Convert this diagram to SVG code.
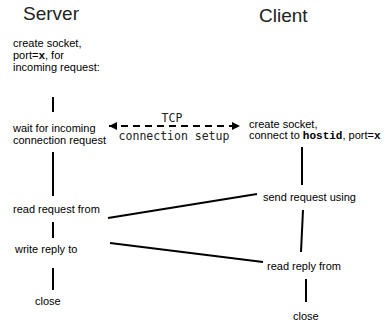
<svg xmlns="http://www.w3.org/2000/svg" width="390" height="322" viewBox="0 0 390 322">
<style>
text{font-family:"Liberation Sans",Arial,sans-serif;fill:#000}
.h{font-size:19px;fill:#222}
.t{font-size:11px}
.m{font-family:"DejaVu Sans Mono","Liberation Mono",monospace;font-size:11.5px;fill:#222}
.b{font-family:"Liberation Mono",monospace;font-weight:bold}
.ln{stroke:#000;stroke-width:2;fill:none}
.dash{stroke:#000;stroke-width:2;stroke-dasharray:7 5;fill:none}
</style>
<defs>
<marker id="ah" viewBox="0 0 10 10" refX="10" refY="5" markerWidth="10" markerHeight="8" markerUnits="userSpaceOnUse" orient="auto-start-reverse">
<path d="M0,0 L10,5 L0,10 z" fill="#000"/>
</marker>
</defs>
<g id="title-server"><text class="h" x="23" y="20">Server</text></g>
<g id="title-client"><text class="h" x="259" y="22">Client</text></g>
<g id="s-create">
<text class="t" x="13" y="47">create socket,</text>
<text class="t" x="13" y="59">port=<tspan class="b">x</tspan>, for</text>
<text class="t" x="13" y="71">incoming request:</text>
</g>
<g id="s-wait">
<text class="t" x="13" y="132">wait for incoming</text>
<text class="t" x="13" y="144">connection request</text>
</g>
<g id="s-read"><text class="t" x="13" y="213">read request from</text></g>
<g id="s-write"><text class="t" x="15" y="253">write reply to</text></g>
<g id="s-close"><text class="t" x="35" y="305">close</text></g>
<g id="c-create">
<text class="t" x="249" y="128">create socket,</text>
<text class="t" x="249" y="139">connect to <tspan class="b">hostid</tspan>, port=<tspan class="b">x</tspan></text>
</g>
<g id="c-send"><text class="t" x="263" y="201">send request using</text></g>
<g id="c-read"><text class="t" x="267" y="270">read reply from</text></g>
<g id="c-close"><text class="t" x="293" y="320">close</text></g>
<g id="tcp-label">
<text class="m" x="172" y="122" text-anchor="middle" font-size="12.5">TCP</text>
<text class="m" x="174" y="140" text-anchor="middle">connection setup</text>
</g>
<g id="connectors">
<line class="ln" x1="53" y1="97" x2="53" y2="112"/>
<line class="ln" x1="53" y1="152" x2="53" y2="196"/>
<line class="ln" x1="53" y1="222" x2="53" y2="238"/>
<line class="ln" x1="53" y1="268" x2="53" y2="290"/>
<line class="dash" x1="109" y1="126" x2="240" y2="126" marker-start="url(#ah)" marker-end="url(#ah)"/>
<line class="ln" x1="302" y1="147" x2="302" y2="185"/>
<line class="ln" x1="303" y1="210" x2="301" y2="252"/>
<line class="ln" x1="306" y1="279" x2="306" y2="302"/>
<line class="ln" x1="108" y1="218" x2="257" y2="194"/>
<line class="ln" x1="110" y1="243" x2="263" y2="262"/>
</g>
</svg>
